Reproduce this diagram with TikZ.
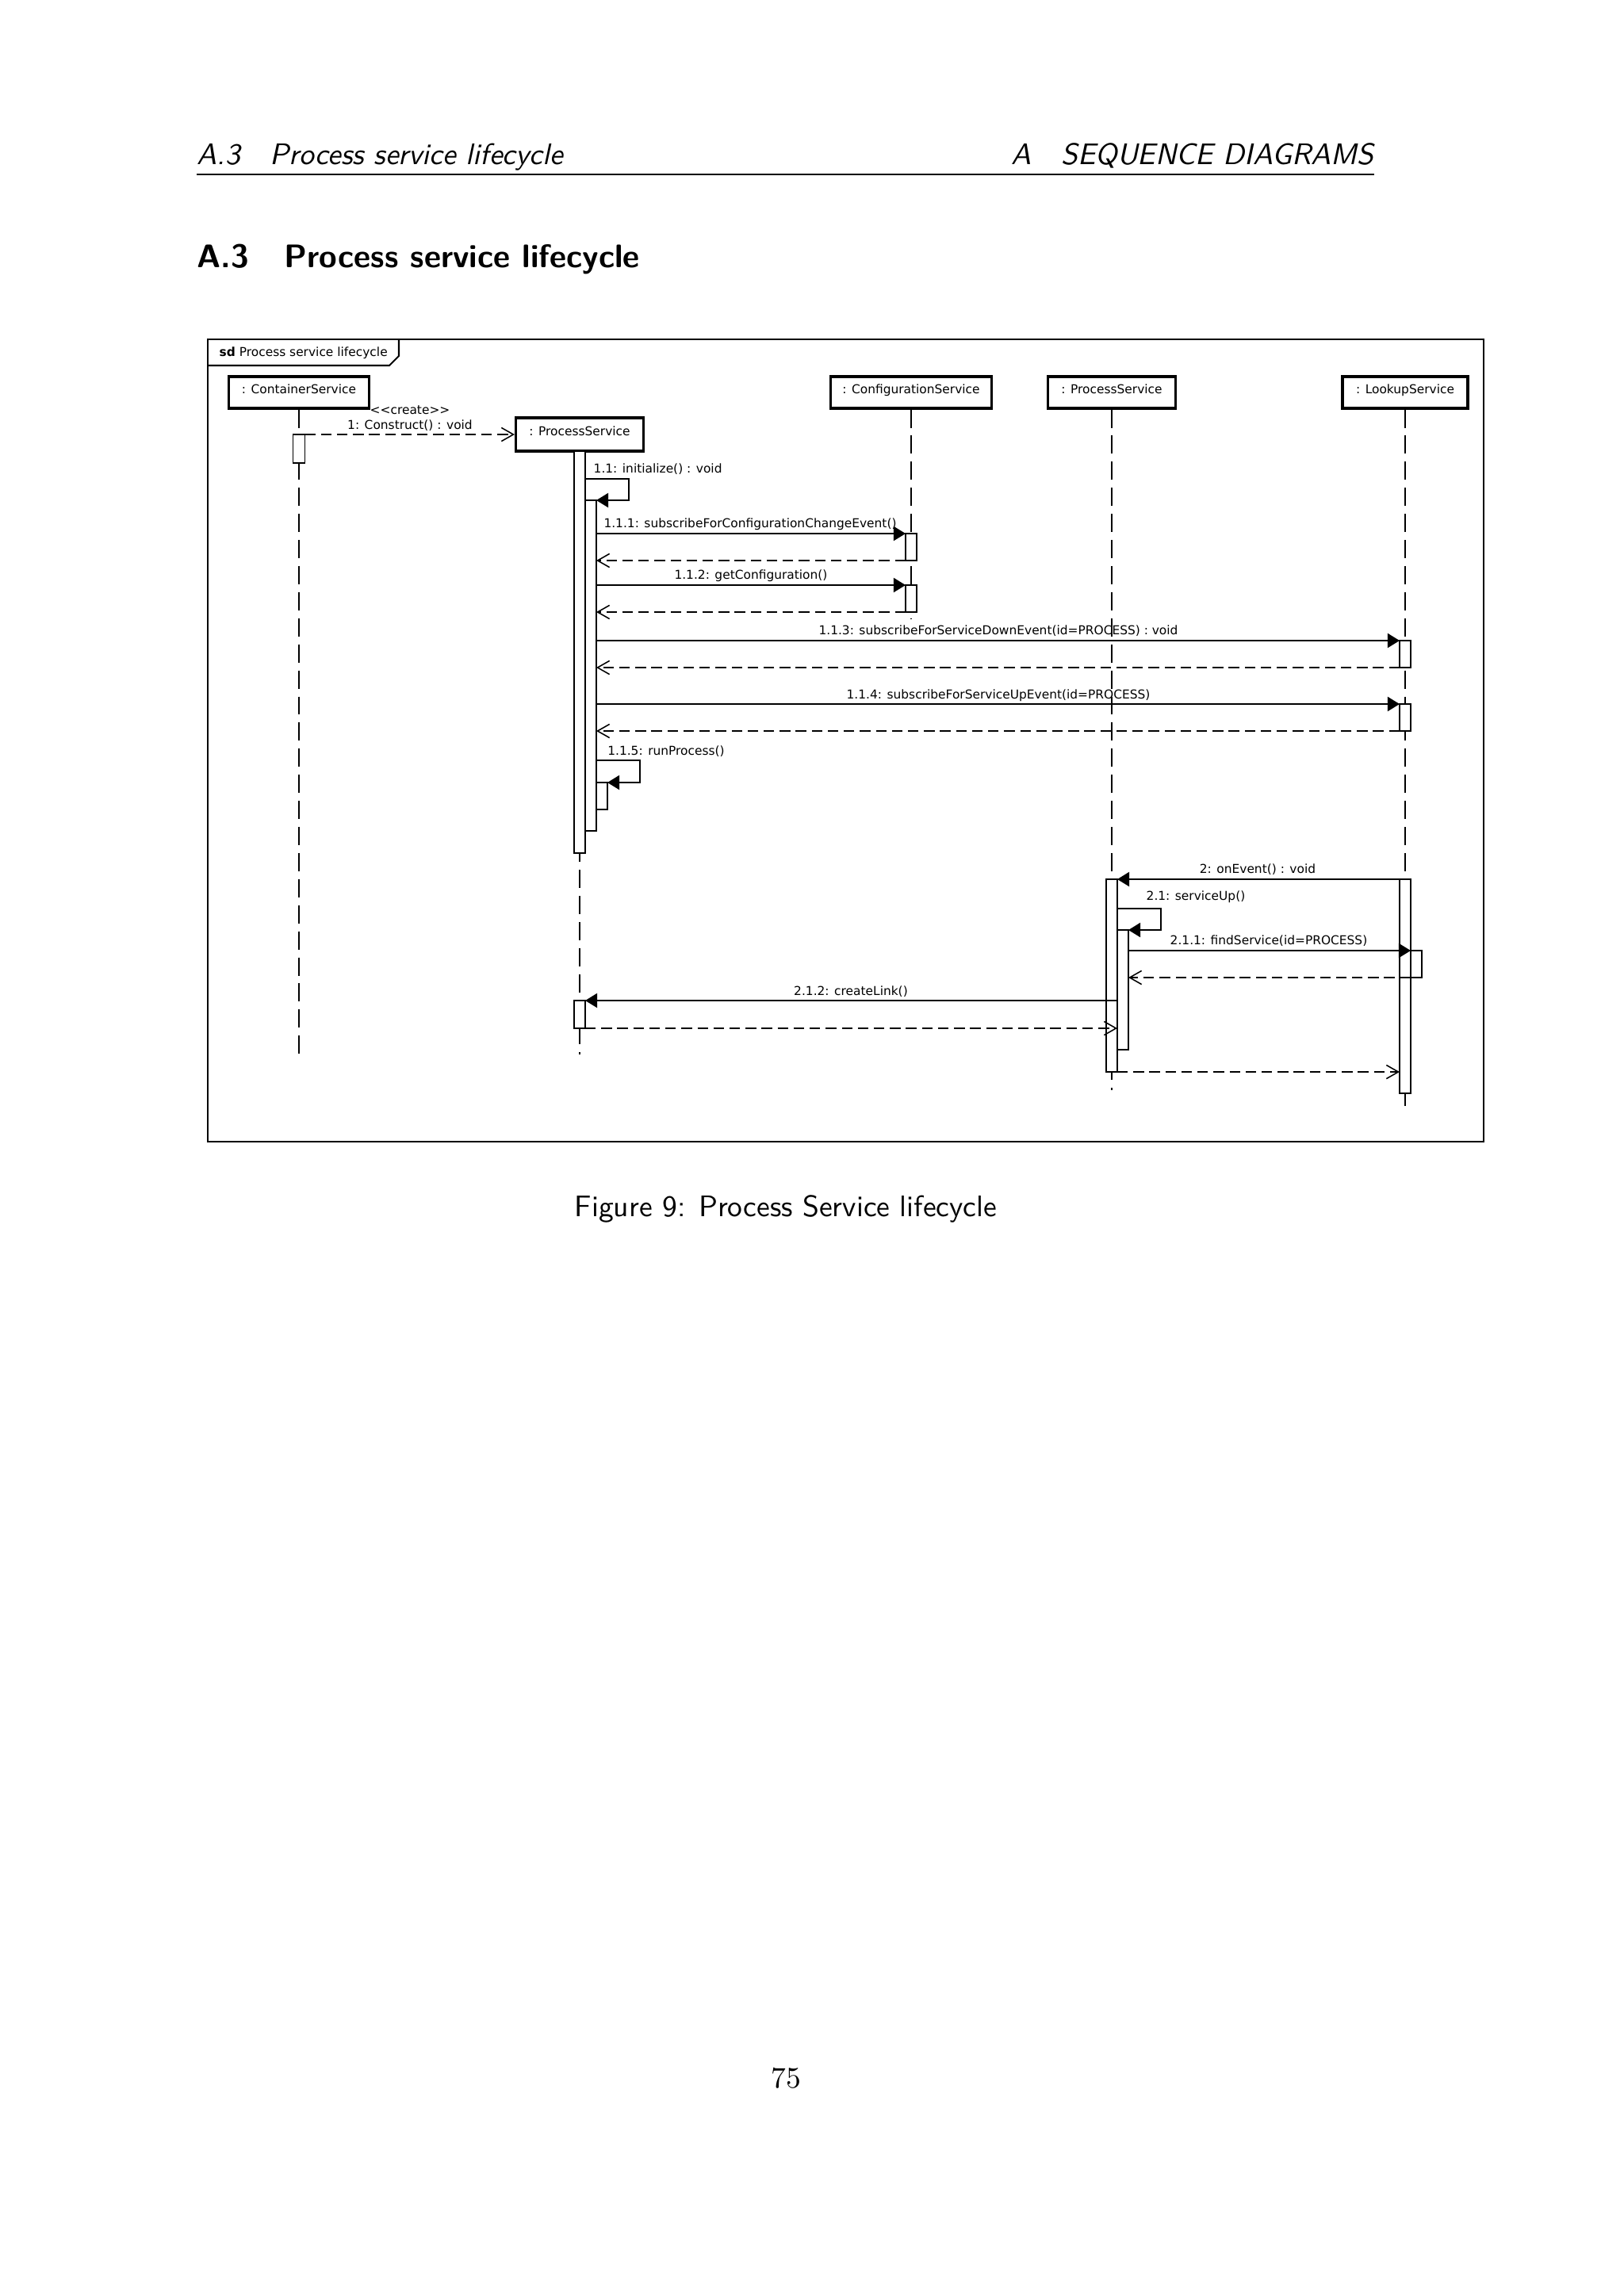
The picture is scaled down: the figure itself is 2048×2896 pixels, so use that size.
\documentclass[tikz,border=0pt]{standalone}
\usepackage{fontspec}
\newfontfamily\umlfont{DejaVu Sans}
\usetikzlibrary{arrows.meta}
\tikzset{
  umltext/.style={font=\umlfont\fontsize{4.5}{5.4}\selectfont, inner sep=0pt},
  lbox/.style={draw, line width=0.9pt, fill=white, umltext, minimum height=0.41cm, text height=3.4pt, text depth=2.8pt},
  life/.style={line width=0.45pt, dash pattern=on 6.7pt off 2.9pt},
  act/.style={draw, fill=white, line width=0.45pt},
  call/.style={line width=0.45pt, -{Triangle[length=4.4pt,width=5.3pt]}},
  reply/.style={line width=0.45pt, dash pattern=on 3.9pt off 2pt, -{Straight Barb[length=4.4pt,width=5pt]}},
  hdtext/.style={font=\sffamily\itshape\fontsize{10.95}{13.6}\selectfont, inner sep=0pt},
  sectext/.style={font=\sffamily\bfseries\fontsize{12}{14}\selectfont, inner sep=0pt},
  captext/.style={font=\sffamily\fontsize{10.95}{13.6}\selectfont, inner sep=0pt},
}
\begin{document}
\begin{tikzpicture}[x=0.010254cm, y=-0.010254cm]
\useasboundingbox (0,0) rectangle (2048,2896);
% ---- page header ----
\node[hdtext, anchor=base west] (hdl) at (248,207) {A.3\quad Process service lifecycle};
\node[hdtext, anchor=base east] (hdr) at (1733,207) {A\quad SEQUENCE DIAGRAMS};
\draw[line width=0.4pt] (248,220) -- (1733,220);
\node[sectext, anchor=base west] (secnum) at (248,337) {A.3};
\node[sectext, anchor=base west] (sectitle) at (358,337) {Process service lifecycle};
% ---- frame ----
\draw[line width=0.6pt] (262,428) rectangle (1871,1440);
\draw[line width=0.6pt] (262,461) -- (491,461) -- (503,449) -- (503,428);
\node[umltext, anchor=west] (sdlabel) at (276,445) {\textbf{sd} Process service lifecycle};
% ---- lifeline heads ----
\node[lbox, minimum width=1.815cm] (cs) at (377,495) {: ContainerService};
\node[lbox, minimum width=1.651cm, minimum height=0.431cm] (psa) at (731,548) {: ProcessService};
\node[lbox, minimum width=2.082cm] (cfg) at (1149,495) {: ConfigurationService};
\node[lbox, minimum width=1.651cm] (psb) at (1402,495) {: ProcessService};
\node[lbox, minimum width=1.620cm] (lk) at (1772,495) {: LookupService};
% ---- lifelines ----
\coordinate (csE) at (377,1339);
\coordinate (psaE) at (731,1330);
\coordinate (cfgE) at (1149,780);
\coordinate (psbE) at (1402,1375);
\coordinate (lkE) at (1772,1400);
\draw[life] (cs.south) -- (csE);
\draw[life] (psa.south) -- (psaE);
\draw[life] (cfg.south) -- (cfgE);
\draw[life] (psb.south) -- (psbE);
\draw[life] (lk.south) -- (lkE);
% ---- activations ----
\draw[act] (369.5,548) rectangle (384.5,584);
\draw[act] (724,569) rectangle (738,1076);
\draw[act] (738,631) rectangle (752,1048);
\draw[act] (752,987) rectangle (766,1021);
\draw[act] (724,1262) rectangle (738,1297);
\draw[act] (1142,673) rectangle (1156,707);
\draw[act] (1142,738) rectangle (1156,772);
\draw[act] (1765,808) rectangle (1779,842);
\draw[act] (1765,888) rectangle (1779,922);
\draw[act] (1765,1109) rectangle (1779,1379);
\draw[act] (1779,1199) rectangle (1793,1233);
\draw[act] (1395,1109) rectangle (1409,1352);
\draw[act] (1409,1173) rectangle (1423,1324);
% ---- message end points ----
\coordinate (m1s) at (384.5,548);
\coordinate (m11s) at (738,604);
\coordinate (m11e) at (752,631);
\coordinate (m111s) at (752,673);
\coordinate (m111e) at (1142,673);
\coordinate (r111s) at (1142,707);
\coordinate (r111e) at (752,707);
\coordinate (m112s) at (752,738);
\coordinate (m112e) at (1142,738);
\coordinate (r112s) at (1142,772);
\coordinate (r112e) at (752,772);
\coordinate (m113s) at (752,808);
\coordinate (m113e) at (1765,808);
\coordinate (r113s) at (1765,842);
\coordinate (r113e) at (752,842);
\coordinate (m114s) at (752,888);
\coordinate (m114e) at (1765,888);
\coordinate (r114s) at (1765,922);
\coordinate (r114e) at (752,922);
\coordinate (m115s) at (752,959);
\coordinate (m115e) at (766,987);
\coordinate (m2s) at (1765,1109);
\coordinate (m2e) at (1409,1109);
\coordinate (m21s) at (1409,1146);
\coordinate (m21e) at (1423,1173);
\coordinate (m211s) at (1423,1199);
\coordinate (m211e) at (1779,1199);
\coordinate (r211s) at (1779,1233);
\coordinate (r211e) at (1423,1233);
\coordinate (m212s) at (1409,1262);
\coordinate (m212e) at (738,1262);
\coordinate (r212s) at (738,1297);
\coordinate (r212e) at (1409,1297);
\coordinate (r2s) at (1409,1352);
\coordinate (r2e) at (1765,1352);
% ---- messages ----
\draw[reply] (m1s) -- (psa.west);
\node[umltext, anchor=west] (lcreate) at (466,517) {<{}<create>{}>};
\node[umltext] (l1) at (517,537) {1: Construct() : void};
\draw[call] (m11s) -- ++(55,0) -- ++(0,27) -- (m11e);
\node[umltext, anchor=west] (l11) at (748,592) {1.1: initialize() : void};
\draw[call] (m111s) -- (m111e);
\node[umltext] (l111) at (946,661) {1.1.1: subscribeForConfigurationChangeEvent()};
\draw[reply] (r111s) -- (r111e);
\draw[call] (m112s) -- (m112e);
\node[umltext] (l112) at (947,726) {1.1.2: getConfiguration()};
\draw[reply] (r112s) -- (r112e);
\draw[call] (m113s) -- (m113e);
\node[umltext] (l113) at (1259,796) {1.1.3: subscribeForServiceDownEvent(id=PROCESS) : void};
\draw[reply] (r113s) -- (r113e);
\draw[call] (m114s) -- (m114e);
\node[umltext] (l114) at (1259,877) {1.1.4: subscribeForServiceUpEvent(id=PROCESS)};
\draw[reply] (r114s) -- (r114e);
\draw[call] (m115s) -- ++(55,0) -- ++(0,28) -- (m115e);
\node[umltext] (l115) at (840,948) {1.1.5: runProcess()};
\draw[call] (m2s) -- (m2e);
\node[umltext] (l2) at (1586,1097) {2: onEvent() : void};
\draw[call] (m21s) -- ++(55,0) -- ++(0,27) -- (m21e);
\node[umltext] (l21) at (1508,1131) {2.1: serviceUp()};
\draw[call] (m211s) -- (m211e);
\node[umltext] (l211) at (1600,1187) {2.1.1: findService(id=PROCESS)};
\draw[reply] (r211s) -- (r211e);
\draw[call] (m212s) -- (m212e);
\node[umltext] (l212) at (1073,1251) {2.1.2: createLink()};
\draw[reply] (r212s) -- (r212e);
\draw[reply] (r2s) -- (r2e);
% ---- caption and page number ----
\node[captext, anchor=base] (caption) at (991,1534) {Figure 9: Process Service lifecycle};
\node[font=\rmfamily\fontsize{10.95}{13.6}\selectfont, inner sep=0pt, anchor=base] (pageno) at (991,2633) {75};
\end{tikzpicture}
\end{document}
